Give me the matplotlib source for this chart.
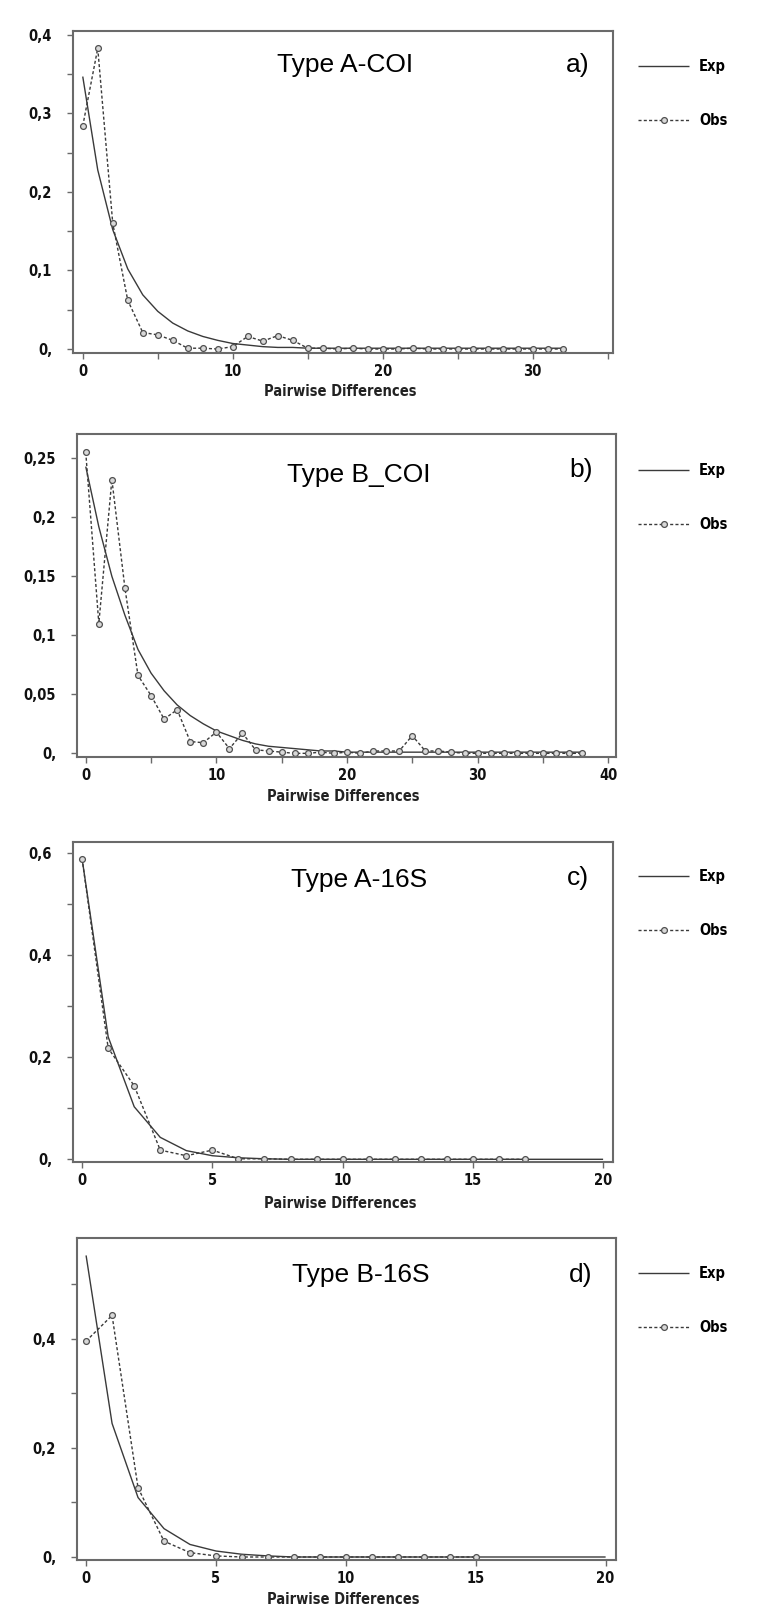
import matplotlib
matplotlib.use("Agg")
import matplotlib.pyplot as plt
import numpy as np

# ---------------- data ----------------
a_obs = [0.284, 0.383, 0.160, 0.062, 0.021, 0.018, 0.011, 0.001, 0.001, 0.000,
         0.003, 0.016, 0.010, 0.017, 0.011, 0.001, 0.001, 0.000, 0.001, 0.000,
         0.000, 0.000, 0.001, 0.000, 0.000, 0.000, 0.000, 0.000, 0.000, 0.000,
         0.000, 0.000, 0.000]
a_exp = [0.347, 0.228, 0.152, 0.102, 0.069, 0.048, 0.033, 0.023, 0.016, 0.011,
         0.007, 0.005, 0.003, 0.002, 0.002, 0.001, 0.001, 0.001, 0.001, 0.001,
         0.001, 0.001, 0.001, 0.001, 0.001, 0.001, 0.001, 0.001, 0.001, 0.001,
         0.001, 0.001, 0.001]

b_obs = [0.255, 0.110, 0.232, 0.140, 0.066, 0.049, 0.029, 0.037, 0.010, 0.009,
         0.018, 0.004, 0.017, 0.003, 0.002, 0.001, 0.000, 0.000, 0.001, 0.000,
         0.001, 0.000, 0.002, 0.002, 0.002, 0.015, 0.002, 0.002, 0.001, 0.000,
         0.000, 0.000, 0.000, 0.000, 0.000, 0.000, 0.000, 0.000, 0.000]
b_exp = [0.243, 0.192, 0.150, 0.117, 0.088, 0.068, 0.053, 0.041, 0.032, 0.025,
         0.019, 0.015, 0.011, 0.008, 0.006, 0.005, 0.004, 0.003, 0.002, 0.002,
         0.001, 0.001, 0.001, 0.001, 0.001, 0.001, 0.001, 0.001, 0.001, 0.001,
         0.001, 0.001, 0.001, 0.001, 0.001, 0.001, 0.001, 0.001, 0.001]

c_obs = [0.589, 0.218, 0.144, 0.018, 0.007, 0.018, 0.001, 0.001, 0.000, 0.000,
         0.000, 0.000, 0.000, 0.000, 0.000, 0.000, 0.000, 0.000]
c_exp = [0.589, 0.240, 0.103, 0.043, 0.017, 0.007, 0.003, 0.001, 0.000, 0.000,
         0.000, 0.000, 0.000, 0.000, 0.000, 0.000, 0.000, 0.000, 0.000, 0.000,
         0.000]

d_obs = [0.396, 0.443, 0.127, 0.029, 0.008, 0.002, 0.000, 0.000, 0.000, 0.000,
         0.000, 0.000, 0.000, 0.000, 0.000, 0.000]
d_exp = [0.553, 0.245, 0.109, 0.052, 0.023, 0.011, 0.005, 0.002, 0.000, 0.000,
         0.000, 0.000, 0.000, 0.000, 0.000, 0.000, 0.000, 0.000, 0.000, 0.000,
         0.000]

titles = ["Type A-COI", "Type B_COI", "Type A-16S", "Type B-16S"]
panel_tags = ["a)", "b)", "c)", "d)"]
series_names = ["Exp", "Obs"]
xlabel = "Pairwise Differences"

a_yticks = [0, 0.1, 0.2, 0.3, 0.4]
a_yticklabels = ["0,", "0,1", "0,2", "0,3", "0,4"]
a_yminor = [0.05, 0.15, 0.25, 0.35]
a_xticks = [0, 5, 10, 15, 20, 25, 30, 35]
a_xticklabels = ["0", "", "10", "", "20", "", "30", ""]

b_yticks = [0, 0.05, 0.1, 0.15, 0.2, 0.25]
b_yticklabels = ["0,", "0,05", "0,1", "0,15", "0,2", "0,25"]
b_yminor = []
b_xticks = [0, 5, 10, 15, 20, 25, 30, 35, 40]
b_xticklabels = ["0", "", "10", "", "20", "", "30", "", "40"]

c_yticks = [0, 0.2, 0.4, 0.6]
c_yticklabels = ["0,", "0,2", "0,4", "0,6"]
c_yminor = [0.1, 0.3, 0.5]
c_xticks = [0, 5, 10, 15, 20]
c_xticklabels = ["0", "5", "10", "15", "20"]

d_yticks = [0, 0.2, 0.4]
d_yticklabels = ["0,", "0,2", "0,4"]
d_yminor = [0.1, 0.3, 0.5]
d_xticks = [0, 5, 10, 15, 20]
d_xticklabels = ["0", "5", "10", "15", "20"]

# ---------------- layout ----------------
W, H = 757, 1612
fig = plt.figure(figsize=(W / 100, H / 100), dpi=100)
fig.patch.set_facecolor("white")

NARROW = dict(family=["DejaVu Sans"], stretch="condensed", weight="bold")
ARIAL = ["Liberation Sans", "DejaVu Sans"]

panels = [
    dict(frame=(73, 31, 613, 353), xlim=(-0.65, 35.35), ylim=(-0.0051, 0.405),
         obs=a_obs, exp=a_exp, yt=a_yticks, ytl=a_yticklabels, ym=a_yminor,
         xt=a_xticks, xtl=a_xticklabels,
         title_xy=(345, 65), tag_xy=(578, 65), leg_y=(67, 118), xlab_y=392),
    dict(frame=(77, 434, 616, 757), xlim=(-0.67, 40.6), ylim=(-0.0031, 0.2706),
         obs=b_obs, exp=b_exp, yt=b_yticks, ytl=b_yticklabels, ym=b_yminor,
         xt=b_xticks, xtl=b_xticklabels,
         title_xy=(359, 475), tag_xy=(581, 470), leg_y=(471, 523), xlab_y=797),
    dict(frame=(73, 842, 613, 1162), xlim=(-0.35, 20.38), ylim=(-0.0053, 0.622),
         obs=c_obs, exp=c_exp, yt=c_yticks, ytl=c_yticklabels, ym=c_yminor,
         xt=c_xticks, xtl=c_xticklabels,
         title_xy=(359, 880), tag_xy=(578, 878), leg_y=(877, 928), xlab_y=1203),
    dict(frame=(77, 1238, 616, 1560), xlim=(-0.35, 20.4), ylim=(-0.0055, 0.585),
         obs=d_obs, exp=d_exp, yt=d_yticks, ytl=d_yticklabels, ym=d_yminor,
         xt=d_xticks, xtl=d_xticklabels,
         title_xy=(361, 1275), tag_xy=(581, 1275), leg_y=(1274, 1326), xlab_y=1600),
]

spine_col = "#6a6a6a"
line_col = "#3a3a3a"

for i, p in enumerate(panels):
    l, t, r, b = p["frame"]
    ax = fig.add_axes([l / W, 1 - b / H, (r - l) / W, (b - t) / H])
    xo = np.arange(len(p["obs"]))
    xe = np.arange(len(p["exp"]))
    ax.plot(xe, p["exp"], color=line_col, lw=1.0, solid_capstyle="butt",
            label=series_names[0])
    ax.plot(xo, p["obs"], color=line_col, lw=1.0, linestyle=(0, (2.2, 1.6)),
            marker="o", markersize=4.2, markerfacecolor="#d8d8d8",
            markeredgecolor="#505050", markeredgewidth=0.9,
            label=series_names[1])
    ax.set_xlim(*p["xlim"])
    ax.set_ylim(*p["ylim"])
    ax.set_yticks(p["yt"])
    ax.set_yticklabels(p["ytl"])
    ax.set_yticks(p["ym"], minor=True)
    ax.set_xticks(p["xt"])
    ax.set_xticklabels(p["xtl"])
    for s in ax.spines.values():
        s.set_color(spine_col)
        s.set_linewidth(1.5)
    ax.tick_params(axis="both", which="both", direction="out", color=spine_col,
                   width=1.0)
    ax.tick_params(axis="y", which="major", length=4, pad=11)
    ax.tick_params(axis="y", which="minor", length=4)
    ax.tick_params(axis="x", which="major", length=4, pad=4)
    for lab in ax.get_xticklabels() + ax.get_yticklabels():
        lab.set_family(NARROW["family"])
        lab.set_fontstretch(NARROW["stretch"])
        lab.set_fontweight("bold")
        lab.set_fontsize(10.5)
        lab.set_color("#111111")

    cx = (l + r) / 2 - 3
    fig.text(cx / W, 1 - p["xlab_y"] / H, xlabel, ha="center", va="center",
             family=NARROW["family"], stretch="condensed", fontweight="bold",
             fontsize=10.5, color="#222222")
    fig.text(p["title_xy"][0] / W, 1 - p["title_xy"][1] / H, titles[i],
             ha="center", va="center", family=ARIAL, fontsize=19, color="black")
    fig.text(p["tag_xy"][0] / W, 1 - p["tag_xy"][1] / H, panel_tags[i],
             ha="center", va="center", family=ARIAL, fontsize=19, color="black")

    handles, labels = ax.get_legend_handles_labels()
    y_top = p["leg_y"][0] - 8
    fig.legend(handles, labels, loc="upper left",
               bbox_to_anchor=(638 / W, 1 - y_top / H),
               frameon=False, handlelength=3.5, handletextpad=0.7,
               labelspacing=2.65, borderpad=0, borderaxespad=0,
               numpoints=1,
               prop=dict(family=NARROW["family"], stretch="condensed",
                         weight="bold", size=10.5))

fig.savefig("out.png", dpi=100, facecolor="white")
